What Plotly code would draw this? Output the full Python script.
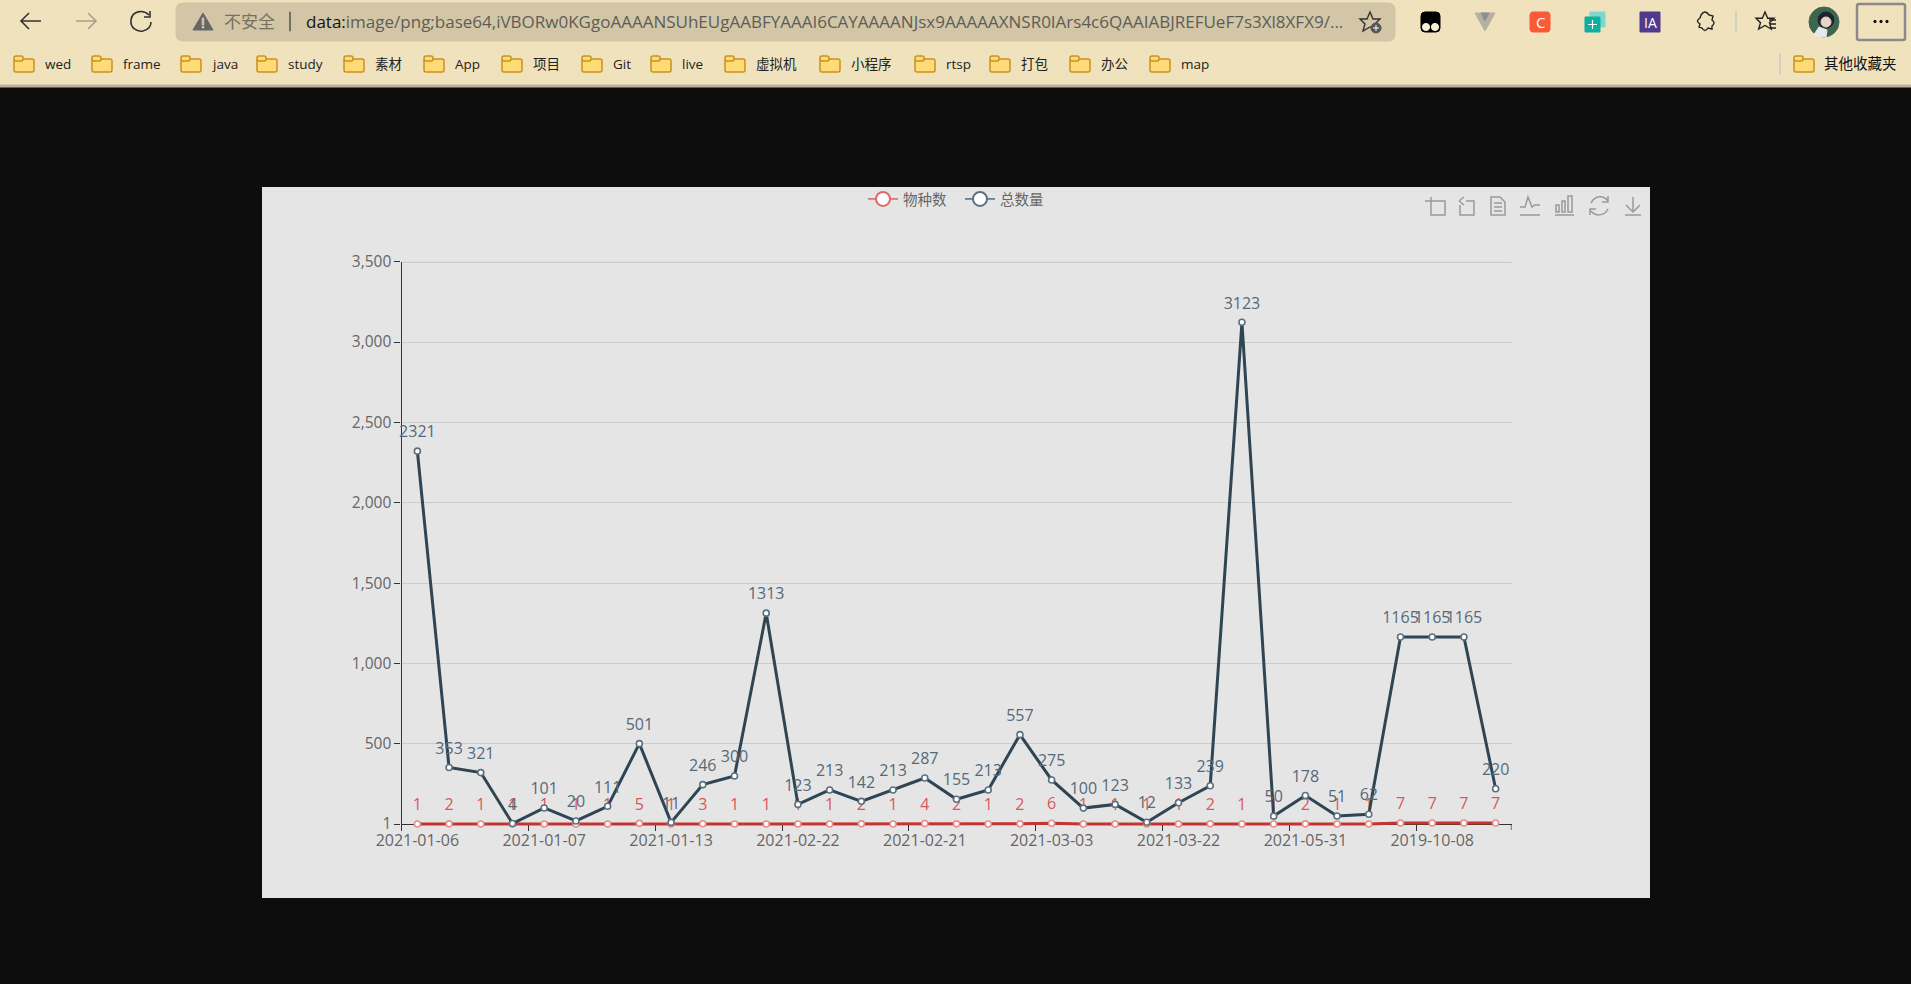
import plotly.graph_objects as go

# Chart data

species_count = [1, 2, 1, 1, 1, 1, 1, 5, 1, 3, 1, 1, 1, 1, 2, 1, 4, 2, 1, 2, 6, 1, 1, 1, 1, 2, 1, 1, 2, 1, 1, 7, 7, 7, 7]
total_count = [2321, 353, 321, 4, 101, 20, 111, 501, 11, 246, 300, 1313, 123, 213, 142, 213, 287, 155, 213, 557, 275,
               100, 123, 12, 133, 239, 3123, 50, 178, 51, 62, 1165, 1165, 1165, 220]
date_labels = ['2021-01-06', '2021-01-07', '2021-01-13', '2021-02-22', '2021-02-21',
               '2021-03-03', '2021-03-22', '2021-05-31', '2019-10-08']
y_ticks = [1, 500, 1000, 1500, 2000, 2500, 3000, 3500]
y_tick_labels = ['1', '500', '1,000', '1,500', '2,000', '2,500', '3,000', '3,500']

bookmark_names = ['wed', 'frame', 'java', 'study', '素材', 'App', '项目', 'Git', 'live', '虚拟机', '小程序', 'rtsp', '打包', '办公', 'map']
bookmark_x = [14, 92, 181, 257, 344, 424, 502, 582, 651, 725, 820, 915, 990, 1070, 1150]
url_head = 'data:'
url_tail = 'image/png;base64,iVBORw0KGgoAAAANSUhEUgAABFYAAAI6CAYAAAANJsx9AAAAAXNSR0IArs4c6QAAIABJREFUeF7s3Xl8XFX9/...'

W, H = 1911, 984
FONT = 'Open Sans, Noto Sans CJK SC, sans-serif'
x_idx = list(range(len(total_count)))

# plot area in pixels, lines get clipped at its edge so it runs a little below the x axis
PLOT_TOP, PLOT_BOTTOM, CLIP_PAD = 261.7, 824, 3
y_low = y_ticks[0] - CLIP_PAD * (y_ticks[-1] - y_ticks[0]) / (PLOT_BOTTOM - PLOT_TOP)

fig = go.Figure()


def add_series(values, line_color, ring_color, text_color):
    fig.add_trace(go.Scatter(x=x_idx, y=values, mode='lines+markers', showlegend=False,
                             line=dict(color=line_color, width=3),
                             marker=dict(size=6, color='white', line=dict(color=ring_color, width=1.6)),
                             cliponaxis=False, hoverinfo='skip'))
    # labels sit on an empty bigger marker, that gives the gap above the points
    fig.add_trace(go.Scatter(x=x_idx, y=values, mode='markers+text', showlegend=False,
                             text=[str(v) for v in values], textposition='top center',
                             textfont=dict(color=text_color, size=16, family=FONT),
                             marker=dict(size=14, color='rgba(0,0,0,0)', line_width=0),
                             cliponaxis=False, hoverinfo='skip'))


add_series(species_count, '#c23531', '#e58f8c', '#d9575a')
add_series(total_count, '#2f4554', '#5b7080', '#55697a')

# legend only entries, so the legend circles can be bigger than the points
fig.add_trace(go.Scatter(x=[None], y=[None], mode='lines+markers', name='物种数',
                         line=dict(color='#dd6b66', width=1.6),
                         marker=dict(size=14, color='white', line=dict(color='#dd6b66', width=2))))
fig.add_trace(go.Scatter(x=[None], y=[None], mode='lines+markers', name='总数量',
                         line=dict(color='#5b7080', width=1.6),
                         marker=dict(size=14, color='white', line=dict(color='#5b7080', width=2))))


# Browser window and toolbox drawn on a second, pixel sized pair of axes

shapes = [dict(type='rect', xref='paper', yref='paper', x0=262 / W, x1=1650 / W, y0=1 - 898 / H, y1=1 - 187 / H,
               fillcolor='#e5e5e5', line_width=0, layer='below')]
notes = []


def rect(x0, y0, x1, y1, fill, line=None, width=1):
    shapes.append(dict(type='rect', xref='x2', yref='y2', x0=x0, y0=y0, x1=x1, y1=y1, fillcolor=fill,
                       line=dict(color=line or fill, width=width)))


def path(d, line='#444444', width=1.5, fill='rgba(0,0,0,0)'):
    shapes.append(dict(type='path', xref='x2', yref='y2', path=d, fillcolor=fill, line=dict(color=line, width=width)))


def round_rect(x0, y0, x1, y1, r, fill, line=None, width=1):
    d = (f'M {x0 + r} {y0} L {x1 - r} {y0} Q {x1} {y0} {x1} {y0 + r} L {x1} {y1 - r} Q {x1} {y1} {x1 - r} {y1} '
         f'L {x0 + r} {y1} Q {x0} {y1} {x0} {y1 - r} L {x0} {y0 + r} Q {x0} {y0} {x0 + r} {y0} Z')
    path(d, line or fill, width, fill)


def circle(cx, cy, r, fill='rgba(0,0,0,0)', line=None, width=1):
    shapes.append(dict(type='circle', xref='x2', yref='y2', x0=cx - r, x1=cx + r, y0=cy - r, y1=cy + r,
                       fillcolor=fill, line=dict(color=line or fill, width=width)))


def label(x, y, text, size=13.5, color='#222222', anchor='left'):
    notes.append(dict(xref='x2', yref='y2', x=x, y=y, text=text, showarrow=False, xanchor=anchor, yanchor='middle',
                      font=dict(size=size, color=color, family=FONT)))


def folder(x):
    round_rect(x, 59, x + 20, 72, 2, '#ffdb78', '#c8931c', 1.5)
    round_rect(x, 56, x + 9, 61, 2, '#ffdb78', '#c8931c', 1.5)


def star(x, y, r=1.0, line='#333333'):
    path(f'M {x} {y - 10 * r} L {x + 3 * r} {y - 3 * r} L {x + 10 * r} {y - 3 * r} L {x + 5 * r} {y + 2 * r} '
         f'L {x + 7 * r} {y + 9 * r} L {x} {y + 5 * r} L {x - 7 * r} {y + 9 * r} L {x - 5 * r} {y + 2 * r} '
         f'L {x - 10 * r} {y - 3 * r} L {x - 3 * r} {y - 3 * r} Z', line, 1.4)


rect(0, 0, W, 85, '#f0e2bc')
rect(0, 85, W, 87, '#bdb398')

# navigation
path('M 41 21 L 21 21 M 29 13 L 21 21 L 29 29', '#333333', 1.6)
path('M 76 21 L 96 21 M 88 13 L 96 21 L 88 29', '#a8a18c', 1.6)
path('M 149 15 C 143 9 132 11 131 20 C 130 28 137 32 143 31 C 147 30 151 27 151 22', '#333333', 1.6)
path('M 150 11 L 150 17 L 144 17', '#333333', 1.6)

# address bar
round_rect(176, 3, 1395, 41, 7, '#d2c6a6')
path('M 203 13 L 213 30 L 193 30 Z', '#666666', 1, '#666666')
rect(202.2, 18, 203.8, 25, '#d2c6a6')
rect(202.2, 26.5, 203.8, 28, '#d2c6a6')
label(222, 21, '不安全', 17, '#74705f')
rect(289.5, 12, 290.5, 31, '#74705f')
label(304, 21, f'{url_head}<span style="color:#5d5d58">{url_tail}</span>', 17, '#111111')
star(1370, 22)
circle(1376, 28, 5, '#555555')
path('M 1373 28 L 1379 28 M 1376 25 L 1376 31', '#ffffff', 1)

# extensions
round_rect(1421, 12, 1440, 32, 4, '#000000')
circle(1426, 27, 3.6, '#f5efd5')
circle(1435, 27, 3.6, '#f5efd5')
path('M 1475 13 L 1495 13 L 1485 31 Z', '#b5b0a0', 1, '#b5b0a0')
path('M 1481 13 L 1489 13 L 1485 21 Z', '#8f8f8f', 1, '#8f8f8f')
round_rect(1530, 12, 1550, 32, 3, '#fa5a38')
notes.append(dict(xref='x2', yref='y2', x=1540, y=22, text='C', showarrow=False,
                  font=dict(size=15, color='white', family=FONT)))
rect(1590, 12, 1605, 27, '#7fd6cc')
rect(1585, 17, 1600, 32, '#0bb0a0')
path('M 1592.5 20 L 1592.5 29 M 1588 24.5 L 1597 24.5', '#ffffff', 1.2)
rect(1640, 12, 1660, 32, '#4f3a8c')
notes.append(dict(xref='x2', yref='y2', x=1650, y=22, text='IA', showarrow=False,
                  font=dict(size=14, color='white', family=FONT)))
path('M 1701 15 Q 1705 9 1709 15 L 1713 16 L 1712 20 Q 1716 23 1712 26 L 1712 29 L 1708 28 Q 1705 33 1702 28 '
     'L 1699 27 L 1700 24 Q 1695 21 1700 18 Z', '#222222', 1.4)
rect(1735.5, 12, 1736.5, 32, '#d0d0c8')
star(1765, 21, 0.9, '#222222')
path('M 1769 20 L 1776 20 M 1770 24 L 1776 24 M 1770 28 L 1776 28', '#222222', 1.3)
circle(1824, 22, 15, '#3c6650')
circle(1826, 20, 8, '#1d2430')
circle(1826, 22, 5, '#e8d5c5')
path('M 1813 36 L 1819 27 L 1827 30 L 1826 37 Z', '#e8e8e8', 1, '#e8e8e8')
round_rect(1857, 4, 1905, 40, 2, 'rgba(0,0,0,0)', '#8a8a8a', 2.5)
for dot_x in (1875, 1881, 1887):
    circle(dot_x, 21.5, 1.2, '#111111')

# bookmarks
for name, bx in zip(bookmark_names, bookmark_x):
    folder(bx)
    label(bx + 28.5, 63.5, name)
rect(1779.5, 54, 1780.5, 74, '#d0d0c8')
folder(1794)
label(1822, 63.5, '其他收藏夹', 14.5, '#111111')

# echarts toolbox
tool = '#999999'
path('M 1425 201 L 1445 201 L 1445 215 L 1431 215 L 1431 197', tool)
path('M 1466 201 L 1474 201 L 1474 215 L 1460 215 L 1460 205 M 1459 201 L 1464 197 M 1459 201 L 1464 205', tool)
path('M 1491 197 L 1500 197 L 1505 202 L 1505 215 L 1491 215 Z M 1494 203 L 1502 203 M 1494 207 L 1502 207 '
     'M 1494 211 L 1502 211', tool)
path('M 1520 207 L 1525 207 L 1528 197 L 1532 207 L 1535 205 L 1540 205 M 1520 215 L 1540 215', tool)
path('M 1556 205 L 1559 205 L 1559 212 L 1556 212 Z M 1562 201 L 1565 201 L 1565 212 L 1562 212 Z '
     'M 1568 196 L 1572 196 L 1572 212 L 1568 212 Z M 1555 215 L 1574 215', tool)
path('M 1591 203 C 1595 195 1604 195 1608 201 M 1608 209 C 1604 217 1595 216 1591 211 M 1608 196 L 1608 202 L 1602 202 '
     'M 1590 215 L 1590 209 L 1596 209', tool)
path('M 1633 197 L 1633 211 M 1626 205 L 1633 212 L 1640 205 M 1625 215 L 1641 215', tool)

# last tick of the axis, echarts closes the band with one
shapes.append(dict(type='line', xref='x', yref='paper', x0=34.5, x1=34.5, y0=1 - PLOT_BOTTOM / H, y1=1 - (PLOT_BOTTOM + 6) / H,
                   line=dict(color='#333333', width=1.3)))
# plotly drops the grid line at the very top of the range, and half of this one is clipped
shapes.append(dict(type='line', xref='x', yref='y', x0=-0.5, x1=34.5, y0=y_ticks[-1], y1=y_ticks[-1],
                   line=dict(color='#cccccc', width=2.4), layer='below'))


# Layout

fig.update_xaxes(domain=[401.5 / W, 1511.5 / W], range=[-0.5, 34.5], tickmode='array', automargin=False,
                 anchor='free', position=1 - PLOT_BOTTOM / H,
                 tickvals=x_idx[::4], ticktext=date_labels, ticks='', showgrid=False, zeroline=False,
                 showline=True, linecolor='#333333', linewidth=1.3, ticklabelstandoff=2, layer='below traces',
                 tickfont=dict(size=16, color='#666666', family=FONT),
                 minor=dict(tick0=-0.5, dtick=4, ticks='outside', ticklen=6, tickwidth=1.3, tickcolor='#333333'))
fig.update_yaxes(domain=[1 - (PLOT_BOTTOM + CLIP_PAD) / H, 1 - PLOT_TOP / H], range=[y_low, y_ticks[-1]],
                 tickmode='array', automargin=False,
                 tickvals=y_ticks, ticktext=y_tick_labels, ticks='outside', ticklen=6, tickwidth=1.3,
                 tickcolor='#333333', showgrid=True, gridcolor='#cccccc', gridwidth=1.2, zeroline=False,
                 showline=True, linecolor='#333333', linewidth=1.3, layer='below traces',
                 tickfont=dict(size=15.5, color='#666666', family=FONT))

fig.update_layout(template='none', width=W, height=H, margin=dict(l=0, r=0, t=0, b=0, pad=0), autosize=False,
                  paper_bgcolor='#0d0d0d', plot_bgcolor='rgba(0,0,0,0)',
                  xaxis2=dict(domain=[0, 1], range=[0, W], visible=False, fixedrange=True, anchor='y2', automargin=False),
                  yaxis2=dict(domain=[0, 1], range=[H, 0], visible=False, fixedrange=True, anchor='x2', automargin=False),
                  shapes=shapes, annotations=notes,
                  legend=dict(orientation='h', x=863 / W, xanchor='left', y=1 - 183 / H, yanchor='top',
                              bgcolor='rgba(0,0,0,0)', font=dict(size=14.5, color='#666666', family=FONT),
                              itemwidth=30, entrywidth=52, entrywidthmode='pixels'))

fig.write_html('out.html', config=dict(displayModeBar=False),
               post_script="document.body.style.margin='0';document.body.style.overflow='hidden';")
